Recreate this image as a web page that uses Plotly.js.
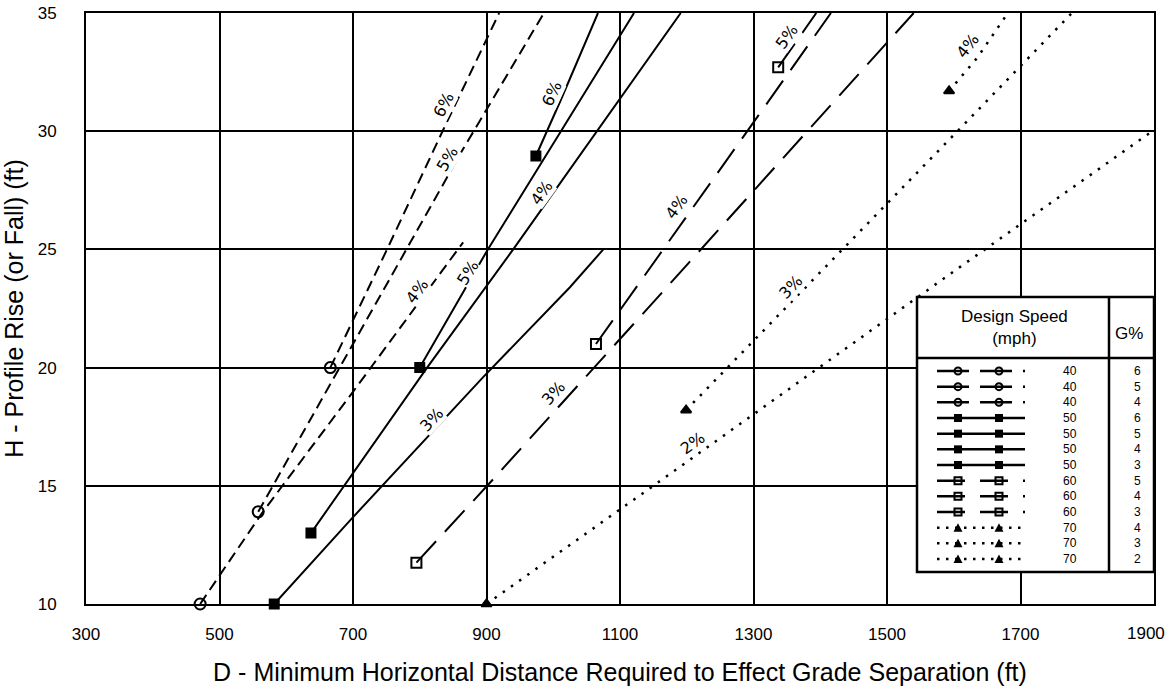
<!DOCTYPE html>
<html><head><meta charset="utf-8">
<script src="https://cdn.plot.ly/plotly-3.0.1.min.js"></script>
<style>html,body{margin:0;padding:0;background:#fff}#chart{width:1169px;height:692px}</style>
</head><body><div id="chart"></div>
<script>
// ---- data: D (ft) and H (ft) for each design speed / grade curve ----
const d40g6 = [666, 751, 835, 919];
const h40g6 = [20, 25, 30.05, 35];
const d40g5 = [558, 684, 781, 864, 986];
const h40g5 = [13.9, 20.2, 25, 29.2, 35];
const d40g4 = [471, 565, 698, 811, 865];
const h40g4 = [10, 13.9, 18.9, 23.2, 25.3];

const d50g6 = [974, 1011, 1067];
const h50g6 = [28.95, 31.3, 35];
const d50g5 = [800, 902, 1121];
const h50g5 = [20, 25, 35];
const d50g4 = [637, 811, 940, 1191];
const h50g4 = [13, 20, 25, 35];
const d50g3 = [582, 696, 895, 1025, 1075];
const h50g3 = [10, 13.55, 19.6, 23.4, 25];

const d60g5 = [1337, 1394];
const h60g5 = [32.7, 35];
const d60g4 = [1064, 1202, 1310, 1416];
const h60g4 = [21, 26.45, 30.77, 35];
const d60g3 = [795, 901, 1167, 1540];
const h60g3 = [11.75, 15, 23.3, 35];

const d70g4 = [1593, 1635, 1681];
const h70g4 = [31.7, 33.1, 35];
const d70g3 = [1199, 1434, 1609, 1777];
const h70g3 = [18.2, 25, 30.1, 35];
const d70g2 = [900, 1145, 1609, 1900];
const h70g2 = [10, 14.9, 24.25, 30.05];

const xTicks = [300, 500, 700, 900, 1100, 1300, 1500, 1700, 1900];
const yTicks = [10, 15, 20, 25, 30, 35];

const legendSpeeds = [40, 40, 40, 50, 50, 50, 50, 60, 60, 60, 70, 70, 70];
const legendGrades = [6, 5, 4, 6, 5, 4, 3, 5, 4, 3, 4, 3, 2];

const series = [
  {speed: 40, grade: 6, d: d40g6, h: h40g6},
  {speed: 40, grade: 5, d: d40g5, h: h40g5},
  {speed: 40, grade: 4, d: d40g4, h: h40g4},
  {speed: 50, grade: 6, d: d50g6, h: h50g6},
  {speed: 50, grade: 5, d: d50g5, h: h50g5},
  {speed: 50, grade: 4, d: d50g4, h: h50g4},
  {speed: 50, grade: 3, d: d50g3, h: h50g3},
  {speed: 60, grade: 5, d: d60g5, h: h60g5},
  {speed: 60, grade: 4, d: d60g4, h: h60g4},
  {speed: 60, grade: 3, d: d60g3, h: h60g3},
  {speed: 70, grade: 4, d: d70g4, h: h70g4},
  {speed: 70, grade: 3, d: d70g3, h: h70g3},
  {speed: 70, grade: 2, d: d70g2, h: h70g2}
];

// ---- label placement on curves (position in data units, angle in degrees) ----
const curveLabels = [
  {speed: 40, grade: 6, x: 835, y: 31.1, a: 63},
  {speed: 40, grade: 5, x: 841, y: 28.8, a: 59},
  {speed: 40, grade: 4, x: 796, y: 23.2, a: 53},
  {speed: 50, grade: 6, x: 998, y: 31.6, a: 65},
  {speed: 50, grade: 5, x: 871, y: 24.0, a: 58},
  {speed: 50, grade: 4, x: 983, y: 27.4, a: 54},
  {speed: 50, grade: 3, x: 818, y: 17.8, a: 47},
  {speed: 60, grade: 5, x: 1350, y: 34.0, a: 54},
  {speed: 60, grade: 4, x: 1185, y: 26.8, a: 54},
  {speed: 60, grade: 3, x: 1000, y: 18.9, a: 48},
  {speed: 70, grade: 4, x: 1620, y: 33.6, a: 52},
  {speed: 70, grade: 3, x: 1355, y: 23.4, a: 46},
  {speed: 70, grade: 2, x: 1208, y: 16.8, a: 35}
];

const styleBySpeed = {
  40: {dash: '11px,6px', width: 2, symbol: 'circle-open', size: 11},
  50: {dash: 'solid', width: 2, symbol: 'square', size: 9},
  60: {dash: '29px,13px', width: 2, symbol: 'square-open', size: 10},
  70: {dash: '2.5px,7.5px', width: 2.5, symbol: 'triangle-up', size: 9}
};

const traces = [];
series.forEach(s => {
  const st = styleBySpeed[s.speed];
  traces.push({
    type: 'scatter', mode: 'lines', x: s.d, y: s.h,
    line: {color: 'black', width: st.width, dash: st.dash},
    name: s.speed + ' mph, ' + s.grade + '%', showlegend: false, hoverinfo: 'skip'
  });
});
[40, 50, 60, 70].forEach(sp => {
  const st = styleBySpeed[sp];
  const ss = series.filter(s => s.speed === sp);
  traces.push({
    type: 'scatter', mode: 'markers',
    x: ss.map(s => s.d[0]), y: ss.map(s => s.h[0]),
    marker: {symbol: st.symbol, size: st.size, color: 'black', line: {color: 'black', width: 2}},
    cliponaxis: false, showlegend: false, hoverinfo: 'skip'
  });
});

const annotations = curveLabels.map(l => ({
  x: l.x, y: l.y, xref: 'x', yref: 'y', text: l.grade + '%', textangle: -l.a,
  showarrow: false, bgcolor: 'white', borderpad: 0,
  font: {family: 'DejaVu Sans, sans-serif', size: 16, color: 'black'}
}));

// ---- custom table legend (paper coordinates from pixel positions) ----
const L = 86, T = 13, W = 1068, H = 591;
const X = px => (px - L) / W;
const Y = py => (T + H - py) / H;
const shapes = [];
const boxL = 917, boxR = 1154, boxT = 297, boxB = 572, hdrY = 358, divX = 1109;
shapes.push({type: 'rect', xref: 'paper', yref: 'paper', x0: X(boxL), x1: X(boxR), y0: Y(boxB), y1: Y(boxT),
  fillcolor: 'white', line: {color: 'black', width: 2.5}, layer: 'above'});
shapes.push({type: 'line', xref: 'paper', yref: 'paper', x0: X(boxL), x1: X(boxR), y0: Y(hdrY), y1: Y(hdrY),
  line: {color: 'black', width: 2.5}, layer: 'above'});
shapes.push({type: 'line', xref: 'paper', yref: 'paper', x0: X(divX), x1: X(divX), y0: Y(boxB), y1: Y(boxT),
  line: {color: 'black', width: 2.5}, layer: 'above'});

const rowTop = 371, rowStep = 15.67;
const legendDash = {40: '32px,11px', 50: 'solid', 60: '28px,15px', 70: '2.5px,6.5px'};
legendSpeeds.forEach((sp, i) => {
  const py = rowTop + i * rowStep;
  shapes.push({type: 'line', xref: 'paper', yref: 'paper', x0: X(937), x1: X(1025), y0: Y(py), y1: Y(py),
    line: {color: 'black', width: 2.5, dash: legendDash[sp]}, layer: 'above'});
  [958, 999].forEach(mx => {
    if (sp === 40) {
      shapes.push({type: 'circle', xref: 'paper', yref: 'paper', x0: X(mx - 3.5), x1: X(mx + 3.5), y0: Y(py + 3.5), y1: Y(py - 3.5),
        fillcolor: 'rgba(0,0,0,0)', line: {color: 'black', width: 2}, layer: 'above'});
    } else if (sp === 50) {
      shapes.push({type: 'rect', xref: 'paper', yref: 'paper', x0: X(mx - 4), x1: X(mx + 4), y0: Y(py + 4), y1: Y(py - 4),
        fillcolor: 'black', line: {width: 0}, layer: 'above'});
    } else if (sp === 60) {
      shapes.push({type: 'rect', xref: 'paper', yref: 'paper', x0: X(mx - 3.5), x1: X(mx + 3.5), y0: Y(py + 3.5), y1: Y(py - 3.5),
        fillcolor: 'rgba(0,0,0,0)', line: {color: 'black', width: 2}, layer: 'above'});
    } else {
      const p = 'M ' + X(mx - 4.5) + ' ' + Y(py + 4) + ' L ' + X(mx + 4.5) + ' ' + Y(py + 4) + ' L ' + X(mx) + ' ' + Y(py - 4.5) + ' Z';
      shapes.push({type: 'path', xref: 'paper', yref: 'paper', path: p, fillcolor: 'black', line: {width: 0}, layer: 'above'});
    }
  });
});
// one multi-line text per legend column (line spacing = 1.3 x font size = row step)
const colFont = {family: 'Liberation Sans, Arial, sans-serif', size: rowStep / 1.3, color: 'black'};
const midRow = rowTop + (legendSpeeds.length - 1) * rowStep / 2;
annotations.push({xref: 'paper', yref: 'paper', x: X(1079), y: Y(midRow), xanchor: 'right', yanchor: 'middle', align: 'right',
  text: legendSpeeds.join('<br>'), showarrow: false, font: colFont});
annotations.push({xref: 'paper', yref: 'paper', x: X(1137), y: Y(midRow), xanchor: 'center', yanchor: 'middle', align: 'center',
  text: legendGrades.join('<br>'), showarrow: false, font: colFont});
annotations.push({xref: 'paper', yref: 'paper', x: X(1014), y: Y(328), xanchor: 'center', yanchor: 'middle',
  text: 'Design Speed<br>(mph)', showarrow: false, font: {family: 'Liberation Sans, Arial, sans-serif', size: 17, color: 'black'}});
annotations.push({xref: 'paper', yref: 'paper', x: X(1129), y: Y(333), xanchor: 'center', yanchor: 'middle',
  text: 'G%', showarrow: false, font: {family: 'Liberation Sans, Arial, sans-serif', size: 17, color: 'black'}});

const axFont = {family: 'Liberation Sans, Arial, sans-serif', size: 17, color: 'black'};
// the last x tick label sits at the page edge: draw it right-aligned inside the page
const lastTick = xTicks[xTicks.length - 1];
const xTickText = xTicks.map(v => v === lastTick ? '' : String(v));
annotations.push({xref: 'paper', yref: 'paper', x: X(1167), y: Y(633), xanchor: 'right', yanchor: 'middle',
  text: String(lastTick), showarrow: false, font: axFont});

const layout = {
  width: 1169, height: 692,
  margin: {l: L, r: 1169 - L - W, t: T, b: 692 - T - H, pad: 0},
  paper_bgcolor: 'white', plot_bgcolor: 'white',
  showlegend: false,
  xaxis: {
    range: [300, 1900], tickvals: xTicks, ticktext: xTickText,
    showgrid: true, gridcolor: 'black', gridwidth: 2, zeroline: false,
    showline: true, linecolor: 'black', linewidth: 2, mirror: true,
    ticks: 'outside', ticklen: 14, tickcolor: 'rgba(0,0,0,0)',
    tickfont: axFont, automargin: false,
    title: {text: 'D - Minimum Horizontal Distance Required to Effect Grade Separation (ft)',
      font: {family: 'Liberation Sans, Arial, sans-serif', size: 25, color: 'black'}, standoff: 20}
  },
  yaxis: {
    range: [10, 35], tickvals: yTicks, ticktext: yTicks.map(String),
    showgrid: true, gridcolor: 'black', gridwidth: 2, zeroline: false,
    showline: true, linecolor: 'black', linewidth: 2, mirror: true,
    ticks: 'outside', ticklen: 24, tickcolor: 'rgba(0,0,0,0)', ticklabeloverflow: 'allow',
    tickfont: axFont, automargin: false,
    title: {text: 'H - Profile Rise (or Fall) (ft)',
      font: {family: 'Liberation Sans, Arial, sans-serif', size: 25, color: 'black'}, standoff: 10}
  },
  shapes: shapes,
  annotations: annotations
};

Plotly.newPlot('chart', traces, layout, {displayModeBar: false, staticPlot: true});
</script>
</body></html>
